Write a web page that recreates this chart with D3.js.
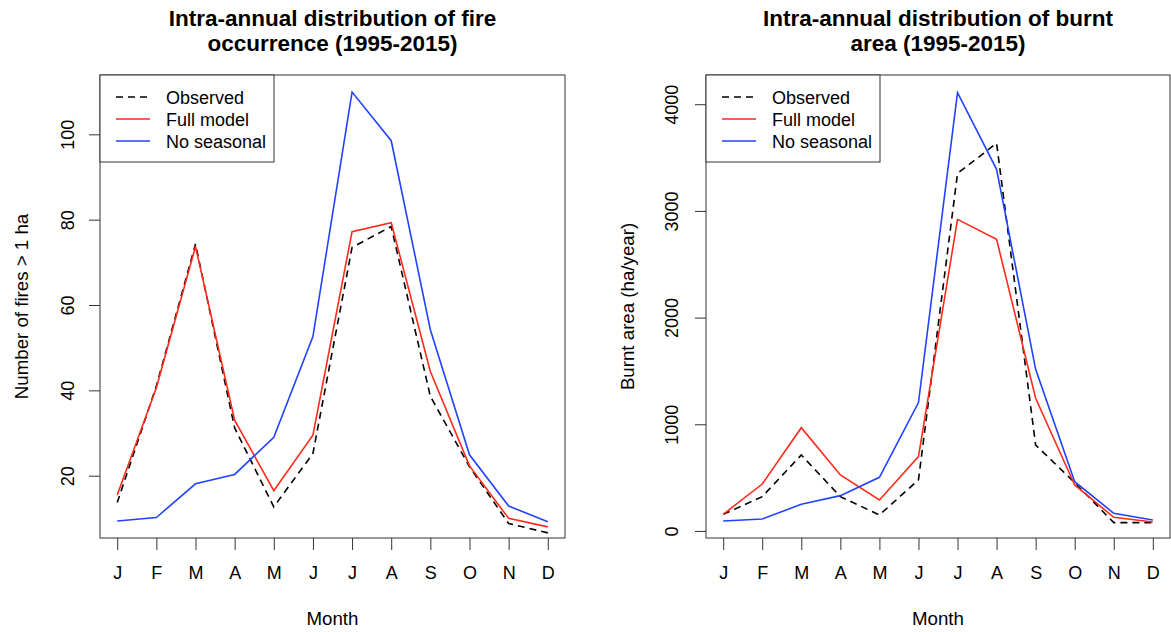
<!DOCTYPE html>
<html>
<head>
<meta charset="utf-8">
<script src="https://cdn.jsdelivr.net/npm/d3@7"></script>
<style>
  body { margin: 0; background: #fff; }
  text { font-family: "Liberation Sans", Arial, Helvetica, sans-serif; fill: #000; }
</style>
</head>
<body>
<div id="chart"></div>
<script>
// Months
var months = ["J", "F", "M", "A", "M", "J", "J", "A", "S", "O", "N", "D"];

// Fire occurrence (number of fires > 1 ha)
var fireObserved = [13.7, 41, 74.3, 31.2, 12.7, 25.2, 73.5, 78.4, 38.6, 22.1, 8.8, 6.6];
var fireFull     = [15.5, 40.6, 73.7, 33, 16.5, 29.5, 77.2, 79.3, 44.4, 22.3, 10.0, 8.0];
var fireNoSeas   = [9.4, 10.2, 18.1, 20.3, 29.0, 52.6, 109.9, 98.5, 54.2, 24.9, 12.9, 9.2];
var fireTicks = [20, 40, 60, 80, 100];

// Burnt area (ha/year)
var areaObserved = [156, 322, 712, 322, 150, 478, 3352, 3634, 806, 453, 78, 78];
var areaFull     = [156, 440, 968, 525, 290, 697, 2921, 2734, 1244, 431, 128, 84];
var areaNoSeas   = [94, 112, 250, 331, 503, 1203, 4108, 3390, 1515, 462, 166, 103];
var areaTicks = [0, 1000, 2000, 3000, 4000];

var legendNames = ["Observed", "Full model", "No seasonal"];
var RED = "#ff2a1a", BLUE = "#2143ff";

var W = 1171, H = 632;
var svg = d3.select("#chart").append("svg")
  .attr("width", W)
  .attr("height", H);

// draw one panel
function panel(opt) {
  var x = d3.scaleLinear().domain([1 - 0.44, 12 + 0.44]).range([opt.left, opt.right]);
  var y = d3.scaleLinear().domain(opt.ydomain).range([opt.bottom, opt.top]);
  var g = svg.append("g");

  var line = d3.line()
    .x(function(d, i) { return x(i + 1); })
    .y(function(d) { return y(d); });

  var series = [
    { v: opt.obs, color: "#000", dash: "7,5" },
    { v: opt.full, color: RED, dash: null },
    { v: opt.noseas, color: BLUE, dash: null }
  ];
  series.forEach(function(s) {
    g.append("path")
      .attr("d", line(s.v))
      .attr("fill", "none")
      .attr("stroke", s.color)
      .attr("stroke-width", 1.6)
      .attr("stroke-dasharray", s.dash);
  });

  // box
  g.append("rect")
    .attr("x", opt.left).attr("y", opt.top)
    .attr("width", opt.right - opt.left).attr("height", opt.bottom - opt.top)
    .attr("fill", "none").attr("stroke", "#333").attr("stroke-width", 1);

  // x axis
  var xa = g.append("g")
    .attr("transform", "translate(0," + opt.bottom + ")")
    .call(d3.axisBottom(x).tickValues(d3.range(1, 13)).tickSize(12).tickPadding(16)
      .tickFormat(function(d) { return months[d - 1]; }));
  xa.select(".domain").remove();
  xa.selectAll("line").attr("stroke", "#333");
  xa.selectAll("text").style("font-size", "18px").attr("fill", "#000");

  // y axis
  var ya = g.append("g")
    .attr("transform", "translate(" + opt.left + ",0)")
    .call(d3.axisLeft(y).tickValues(opt.ticks).tickSize(11).tickPadding(0)
      .tickFormat(d3.format("d")));
  ya.select(".domain").remove();
  ya.selectAll("line").attr("stroke", "#333");
  ya.selectAll("text")
    .style("font-size", "18px")
    .attr("fill", "#000")
    .attr("text-anchor", "middle")
    .attr("x", 0).attr("dy", 0)
    .attr("transform", "translate(" + opt.ylabOff + ",0) rotate(-90)")
    .attr("y", 0);

  // axis titles
  g.append("text")
    .attr("x", (opt.left + opt.right) / 2).attr("y", 625)
    .attr("text-anchor", "middle").style("font-size", "18.7px")
    .text("Month");
  g.append("text")
    .attr("transform", "translate(" + opt.ytitleX + "," + ((opt.top + opt.bottom) / 2) + ") rotate(-90)")
    .attr("text-anchor", "middle").style("font-size", "18.7px")
    .text(opt.ytitle);

  // title
  var cx = (opt.left + opt.right) / 2;
  opt.title.forEach(function(t, i) {
    g.append("text")
      .attr("x", cx).attr("y", 26 + i * 25)
      .attr("text-anchor", "middle")
      .style("font-size", "22.5px").style("font-weight", "bold")
      .text(t);
  });

  // legend
  var lg = g.append("g");
  lg.append("rect")
    .attr("x", opt.left).attr("y", opt.top)
    .attr("width", 174).attr("height", 87)
    .attr("fill", "#fff").attr("stroke", "#333").attr("stroke-width", 1);
  series.forEach(function(s, i) {
    var ly = opt.top + 22 + i * 22;
    lg.append("line")
      .attr("x1", opt.left + 16).attr("x2", opt.left + 50)
      .attr("y1", ly).attr("y2", ly)
      .attr("stroke", s.color).attr("stroke-width", 1.6)
      .attr("stroke-dasharray", s.dash);
    lg.append("text")
      .attr("x", opt.left + 66).attr("y", ly + 6.5)
      .style("font-size", "18px")
      .text(legendNames[i]);
  });
}

panel({
  left: 100, right: 565, top: 75, bottom: 538,
  ydomain: [5.4, 113.9], ticks: fireTicks, ylabOff: -26,
  obs: fireObserved, full: fireFull, noseas: fireNoSeas,
  title: ["Intra-annual distribution of fire", "occurrence (1995-2015)"],
  ytitle: "Number of fires > 1 ha", ytitleX: 28
});

panel({
  left: 706, right: 1170, top: 75, bottom: 538,
  ydomain: [-66, 4274], ticks: areaTicks, ylabOff: -28,
  obs: areaObserved, full: areaFull, noseas: areaNoSeas,
  title: ["Intra-annual distribution of burnt", "area (1995-2015)"],
  ytitle: "Burnt area (ha/year)", ytitleX: 634
});
</script>
</body>
</html>
